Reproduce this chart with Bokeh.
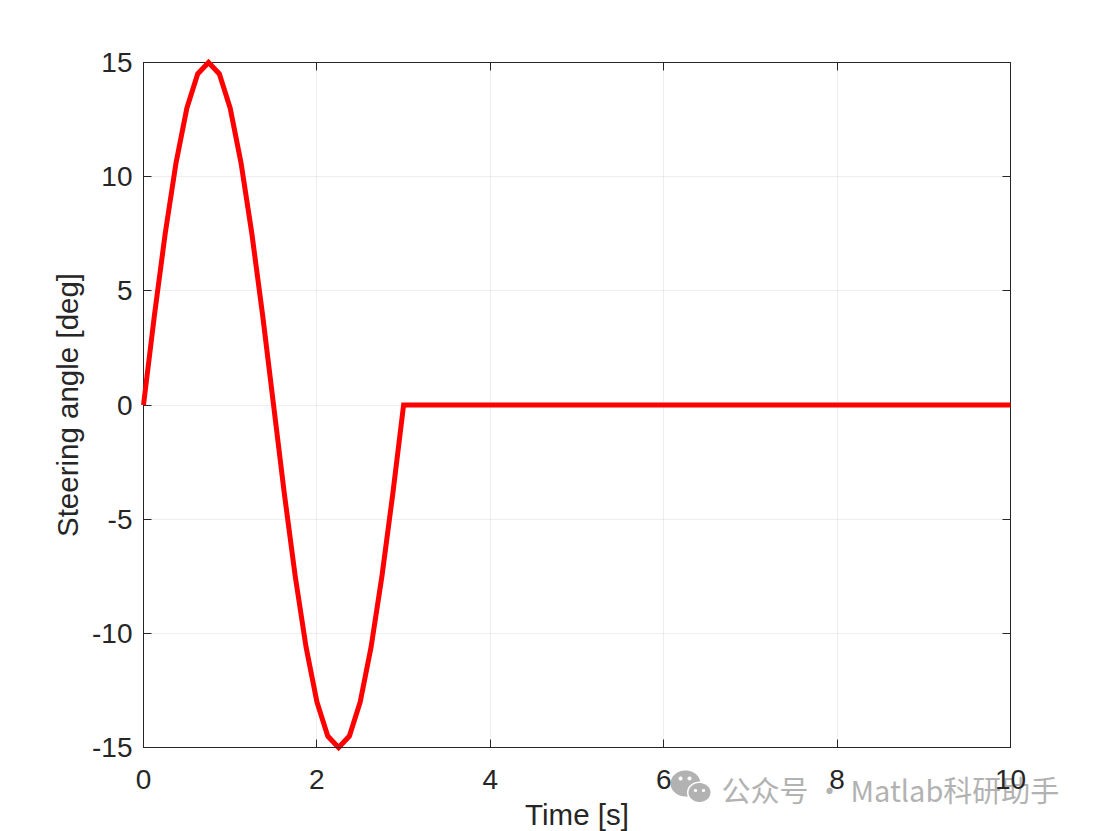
import numpy as np
from bokeh.plotting import figure
from bokeh.core.properties import value
from bokeh.models import ColumnDataSource, FixedTicker, Grid, LinearAxis, Range1d
from bokeh.embed import file_html
from bokeh.resources import INLINE

# Curve values
time_s = [0, 0.125, 0.25, 0.375, 0.5, 0.625, 0.75, 0.875, 1.0, 1.125, 1.25, 1.375, 1.5,
          1.625, 1.75, 1.875, 2.0, 2.125, 2.25, 2.375, 2.5, 2.625, 2.75, 2.875, 3.0, 10.0]
steering_deg = [0, 3.9, 7.5, 10.6, 13.0, 14.5, 15.0, 14.5, 13.0, 10.6, 7.5, 3.9, 0,
                -3.9, -7.5, -10.6, -13.0, -14.5, -15.0, -14.5, -13.0, -10.6, -7.5, -3.9, 0, 0]
x_ticks = [0, 2, 4, 6, 8, 10]
x_labels = ["0", "2", "4", "6", "8", "10"]
y_ticks = [-15, -10, -5, 0, 5, 10, 15]
y_labels = ["-15", "-10", "-5", "0", "5", "10", "15"]
x_title = "Time [s]"
y_title = "Steering angle [deg]"
watermark = "公众号 · Matlab科研助手"

INK = "#262626"
FONT = "Liberation Sans"
L, T, FW, FH = 143, 62, 867, 685
W, H = 1108, 831

p = figure(width=W, height=H, output_backend="svg", toolbar_location=None,
           x_range=Range1d(0, 10), y_range=Range1d(-15, 15),
           x_axis_location=None, y_axis_location=None,
           frame_width=FW, frame_height=FH,
           min_border_left=L, min_border_top=T,
           min_border_right=W - L - FW, min_border_bottom=H - T - FH,
           background_fill_color="white", border_fill_color="white")
p.outline_line_color = INK
p.outline_line_width = 1
p.grid.grid_line_color = None

def make_axis(ticks, labels=None, title=None):
    ax = LinearAxis(ticker=FixedTicker(ticks=ticks))
    ax.axis_line_color = INK
    ax.axis_line_width = 1
    ax.major_tick_line_color = INK
    ax.major_tick_in = 8
    ax.major_tick_out = 0
    ax.minor_tick_line_color = None
    if labels is None:
        ax.major_label_text_color = None
        ax.major_label_text_font_size = "1px"
        ax.major_label_standoff = 0
    else:
        ax.major_label_overrides = dict(zip(ticks, labels))
        ax.major_label_text_color = INK
        ax.major_label_text_font = FONT
        ax.major_label_text_font_size = "28px"
    if title:
        ax.axis_label = title
        ax.axis_label_text_color = INK
        ax.axis_label_text_font = FONT
        ax.axis_label_text_font_size = "29.5px"
        ax.axis_label_text_font_style = "normal"
    return ax

bottom = make_axis(x_ticks, x_labels, x_title)
bottom.major_label_standoff = 22
bottom.axis_label_standoff = 6
bottom.level = "overlay"
left = make_axis(y_ticks, y_labels, y_title)
left.major_label_standoff = 11
left.axis_label_standoff = 5
p.add_layout(bottom, "below")
p.add_layout(left, "left")
p.add_layout(make_axis(x_ticks), "above")
p.add_layout(make_axis(y_ticks), "right")

p.add_layout(Grid(dimension=0, ticker=FixedTicker(ticks=x_ticks), grid_line_color=INK, grid_line_alpha=0.08, grid_line_width=1))
p.add_layout(Grid(dimension=1, ticker=FixedTicker(ticks=y_ticks), grid_line_color=INK, grid_line_alpha=0.08, grid_line_width=1))

src = ColumnDataSource(dict(t=time_s, a=steering_deg))
p.line("t", "a", source=src, line_color="#ff0000", line_width=5, line_join="miter", level="annotation")

# Watermark: picture pixels converted to the chart's data coordinates
GRAY = "#b2b2b2"
def dx(px):
    return (np.asarray(px, dtype=float) - L) / FW * 10
def dy(py):
    return 15 - (np.asarray(py, dtype=float) - T) / FH * 30

ANCHOR_PY = 740.0   # inside the frame, so the glyph is not culled
p.text(x=[float(dx(721))], y=[float(dy(ANCHOR_PY))], text=[watermark], y_offset=788 - ANCHOR_PY,
       text_font=value("Noto Sans CJK SC"), text_font_size="29px", text_color=GRAY,
       text_baseline="middle", level="annotation")

def blob(cx, cy, rx, ry, color):
    th = np.linspace(0, 2 * np.pi, 40)
    p.patch(dx(cx + rx * np.cos(th)).tolist(), dy(cy + ry * np.sin(th)).tolist(),
            fill_color=color, line_color=None, level="annotation")
blob(685, 783, 15, 13, GRAY)
blob(699, 792, 12.5, 11, "white")
blob(699, 792, 11, 9.5, GRAY)
for cx, cy in ((680, 778), (689, 778)):
    blob(cx, cy, 2, 2, "white")
for cx, cy in ((695, 790), (703, 790)):
    blob(cx, cy, 1.6, 1.6, "white")

open("out.html", "w").write(file_html(p, INLINE))
